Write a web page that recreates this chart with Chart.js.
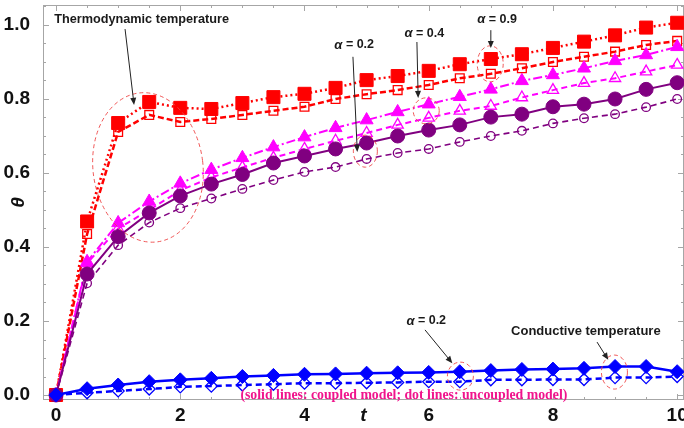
<!DOCTYPE html>
<html><head><meta charset="utf-8">
<script src="https://cdn.jsdelivr.net/npm/chart.js@4.4.1/dist/chart.umd.min.js"></script>
<style>html,body{margin:0;padding:0;background:#fff;}#wrap{width:684px;height:428px;}</style>
</head><body><div id="wrap"><canvas id="c" width="684" height="428"></canvas></div>
<script>
// ---- data (t and theta) ----
const tValues = [0,0.5,1,1.5,2,2.5,3,3.5,4,4.5,5,5.5,6,6.5,7,7.5,8,8.5,9,9.5,10];
const thermoA09Coupled   = [0,0.469,0.735,0.792,0.776,0.773,0.789,0.805,0.814,0.830,0.851,0.862,0.876,0.894,0.908,0.921,0.938,0.955,0.972,0.993,1.006];
const thermoA09Uncoupled = [0,0.435,0.711,0.757,0.738,0.746,0.757,0.768,0.779,0.800,0.813,0.824,0.838,0.856,0.868,0.883,0.900,0.914,0.928,0.946,0.957];
const thermoA04Coupled   = [0,0.360,0.465,0.523,0.572,0.609,0.641,0.670,0.697,0.722,0.743,0.765,0.786,0.806,0.826,0.849,0.865,0.883,0.903,0.919,0.941];
const thermoA04Uncoupled = [0,0.356,0.450,0.500,0.553,0.588,0.615,0.641,0.665,0.687,0.708,0.730,0.749,0.768,0.781,0.804,0.824,0.843,0.856,0.874,0.892];
const thermoA02Coupled   = [0,0.327,0.428,0.492,0.538,0.570,0.596,0.627,0.646,0.665,0.681,0.700,0.716,0.730,0.751,0.759,0.779,0.786,0.800,0.826,0.844];
const thermoA02Uncoupled = [0,0.302,0.405,0.466,0.505,0.531,0.557,0.581,0.603,0.616,0.638,0.654,0.665,0.684,0.700,0.714,0.734,0.748,0.759,0.778,0.800];
const conductCoupled     = [0,0.017,0.027,0.036,0.041,0.045,0.050,0.053,0.056,0.057,0.059,0.060,0.061,0.063,0.066,0.069,0.070,0.072,0.077,0.077,0.063];
const conductUncoupled   = [0,0.006,0.011,0.016,0.022,0.024,0.027,0.029,0.032,0.032,0.033,0.034,0.036,0.036,0.041,0.041,0.042,0.042,0.047,0.047,0.050];
const xTickLabels = [0,2,4,6,8,10];
const yTickLabels = [0,0.2,0.4,0.6,0.8,1.0];

const pts = arr => arr.map((v,i)=>({x:tValues[i], y:v}));
const FONT = "'Liberation Sans', Arial, sans-serif";

function ds(data, color, style, radius, filled, dash, width, order){
  return {data: pts(data), borderColor: color, backgroundColor: filled ? color : 'rgba(0,0,0,0)',
    pointBackgroundColor: filled ? color : 'rgba(0,0,0,0)', pointBorderColor: color,
    pointBorderWidth: filled ? 1 : 1.3, pointStyle: style, pointRadius: radius,
    borderWidth: width, borderDash: dash, tension: 0, fill: false, order: order, clip: 10};
}

const framePlugin = {
  id:'frame',
  beforeDatasetsDraw(chart){
    const {ctx, chartArea:a, scales:{x,y}} = chart;
    ctx.save();
    ctx.strokeStyle='#a6a6a6'; ctx.lineWidth=1;
    ctx.strokeRect(a.left+0.5, a.top+0.5, a.right-a.left-1, a.bottom-a.top-1);
    ctx.beginPath();
    for(let k=0;k<=20;k++){
      const t=k/2, X=Math.round(x.getPixelForValue(t))+0.5, L=(k%4===0)?6:3;
      ctx.moveTo(X,a.bottom); ctx.lineTo(X,a.bottom-L);
      ctx.moveTo(X,a.top); ctx.lineTo(X,a.top+L);
    }
    for(let k=0;k<=21;k++){
      const v=k*0.05, Y=Math.round(y.getPixelForValue(v))+0.5, L=(k%4===0)?6:3;
      ctx.moveTo(a.left,Y); ctx.lineTo(a.left+L,Y);
      ctx.moveTo(a.right,Y); ctx.lineTo(a.right-L,Y);
    }
    ctx.stroke();
    ctx.restore();
  }
};

const annotPlugin = {
  id:'annot',
  afterDatasetsDraw(chart){
    const {ctx, scales:{x,y}} = chart;
    const px=t=>x.getPixelForValue(t), py=v=>y.getPixelForValue(v);
    ctx.save();
    ctx.strokeStyle='rgba(238,70,70,0.9)'; ctx.lineWidth=1; ctx.setLineDash([4,3]);
    const ell=(t,v,rx,ry,rot)=>{ctx.beginPath();ctx.ellipse(px(t),py(v),rx,ry,rot||0,0,Math.PI*2);ctx.stroke();};
    ell(1.48,0.615,55,75,-0.12);
    ell(4.98,0.659,12,16);
    ell(5.96,0.768,13,13);
    ell(6.99,0.895,13,18);
    ell(6.51,0.051,13,14);
    ell(8.99,0.062,13,17);
    ctx.setLineDash([]);
    const arrow=(t1,v1,t2,v2)=>{
      const x1=px(t1),y1=py(v1),x2=px(t2),y2=py(v2);
      const ang=Math.atan2(y2-y1,x2-x1), hl=7, hw=3;
      ctx.strokeStyle='#222'; ctx.fillStyle='#222'; ctx.lineWidth=1;
      ctx.beginPath(); ctx.moveTo(x1,y1); ctx.lineTo(x2-hl*0.8*Math.cos(ang),y2-hl*0.8*Math.sin(ang)); ctx.stroke();
      ctx.beginPath(); ctx.moveTo(x2,y2);
      ctx.lineTo(x2-hl*Math.cos(ang)+hw*Math.sin(ang), y2-hl*Math.sin(ang)-hw*Math.cos(ang));
      ctx.lineTo(x2-hl*Math.cos(ang)-hw*Math.sin(ang), y2-hl*Math.sin(ang)+hw*Math.cos(ang));
      ctx.closePath(); ctx.fill();
    };
    arrow(1.111,0.989,1.256,0.784);
    arrow(4.78,0.914,4.85,0.657);
    arrow(5.81,0.954,5.83,0.803);
    arrow(7.00,0.986,7.00,0.938);
    arrow(5.94,0.176,6.38,0.086);
    arrow(8.71,0.143,8.89,0.095);
    ctx.fillStyle='#1a1a1a'; ctx.textBaseline='middle';
    ctx.font="bold 12.7px "+FONT; ctx.textAlign='left';
    ctx.fillText('Thermodynamic temperature', px(-0.03), py(1.014));
    ctx.textAlign='center';
    ctx.font="bold 13px "+FONT;
    ctx.fillText('Conductive temperature', px(8.53), py(0.173));
    const alpha=(t,v,val)=>{
      ctx.font="bold italic 13px "+FONT; const wa=ctx.measureText('α').width;
      ctx.font="bold 12.5px "+FONT; const wr=ctx.measureText(' = '+val).width;
      const x0=px(t)-(wa+wr)/2, yy=py(v);
      ctx.textAlign='left';
      ctx.font="bold italic 13px "+FONT; ctx.fillText('α',x0,yy);
      ctx.font="bold 12.5px "+FONT; ctx.fillText(' = '+val,x0+wa,yy);
    };
    alpha(4.80,0.946,'0.2');
    alpha(5.93,0.978,'0.4');
    alpha(7.10,1.014,'0.9');
    alpha(5.96,0.200,'0.2');
    ctx.textAlign='center';
    ctx.fillStyle='#f0148c';
    ctx.font="bold 13.8px 'Liberation Serif', 'Times New Roman', serif";
    ctx.fillText('(solid lines: coupled model; dot lines: uncoupled model)', px(5.60), py(-0.002));
    ctx.restore();
  }
};

new Chart(document.getElementById('c'), {
  type:'line',
  data:{datasets:[
    ds(thermoA09Coupled,  '#ff0000','rect',9.2,true,[2,3],2.5,8),
    ds(thermoA09Uncoupled,'#ff0000','rect',6.2,false,[6,3],2.5,7),
    ds(thermoA04Coupled,  '#ff00ff','triangle',7.5,true,[9,3,2,3],2,6),
    ds(thermoA04Uncoupled,'#ff00ff','triangle',6.5,false,[6,4],2,5),
    ds(thermoA02Coupled,  '#800080','circle',7,true,[],2,4),
    ds(thermoA02Uncoupled,'#800080','circle',4.3,false,[6,4],1.6,3),
    ds(conductUncoupled,  '#0000ff','rectRot',6,false,[6,4],2.5,2),
    ds(conductCoupled,    '#0000ff','rectRot',7,true,[],2.5,1)
  ]},
  options:{
    responsive:false, animation:false, devicePixelRatio:1,
    layout:{autoPadding:false, padding:{top:5,right:0,left:0,bottom:0}},
    plugins:{legend:{display:false}, tooltip:{enabled:false}},
    scales:{
      x:{type:'linear', min:-0.21, max:10.11,
        afterBuildTicks:s=>{s.ticks=xTickLabels.map(v=>({value:v}));},
        afterFit:s=>{s.height=28; s.paddingLeft=0; s.paddingRight=0;},
        grid:{display:false}, border:{display:false},
        ticks:{font:{family:FONT,size:19,weight:'bold'},color:'#111',padding:-4,maxRotation:0,autoSkip:false,callback:v=>String(v)},
        title:{display:true,text:'t',font:{family:FONT,size:19,weight:'bold',style:'italic'},color:'#111',padding:{top:0,bottom:1}}
      },
      y:{type:'linear', min:-0.0135, max:1.054,
        afterBuildTicks:s=>{s.ticks=yTickLabels.map(v=>({value:v}));},
        afterFit:s=>{s.width=43; s.paddingTop=0; s.paddingBottom=0;},
        grid:{display:false}, border:{display:false},
        ticks:{font:{family:FONT,size:19,weight:'bold'},color:'#111',padding:5,autoSkip:false,callback:v=>Number(v).toFixed(1)},
        title:{display:true,text:'θ',font:{family:FONT,size:19,weight:'bold',style:'italic'},color:'#111',padding:{top:7,bottom:0}}
      }
    }
  },
  plugins:[framePlugin, annotPlugin]
});
</script></body></html>
